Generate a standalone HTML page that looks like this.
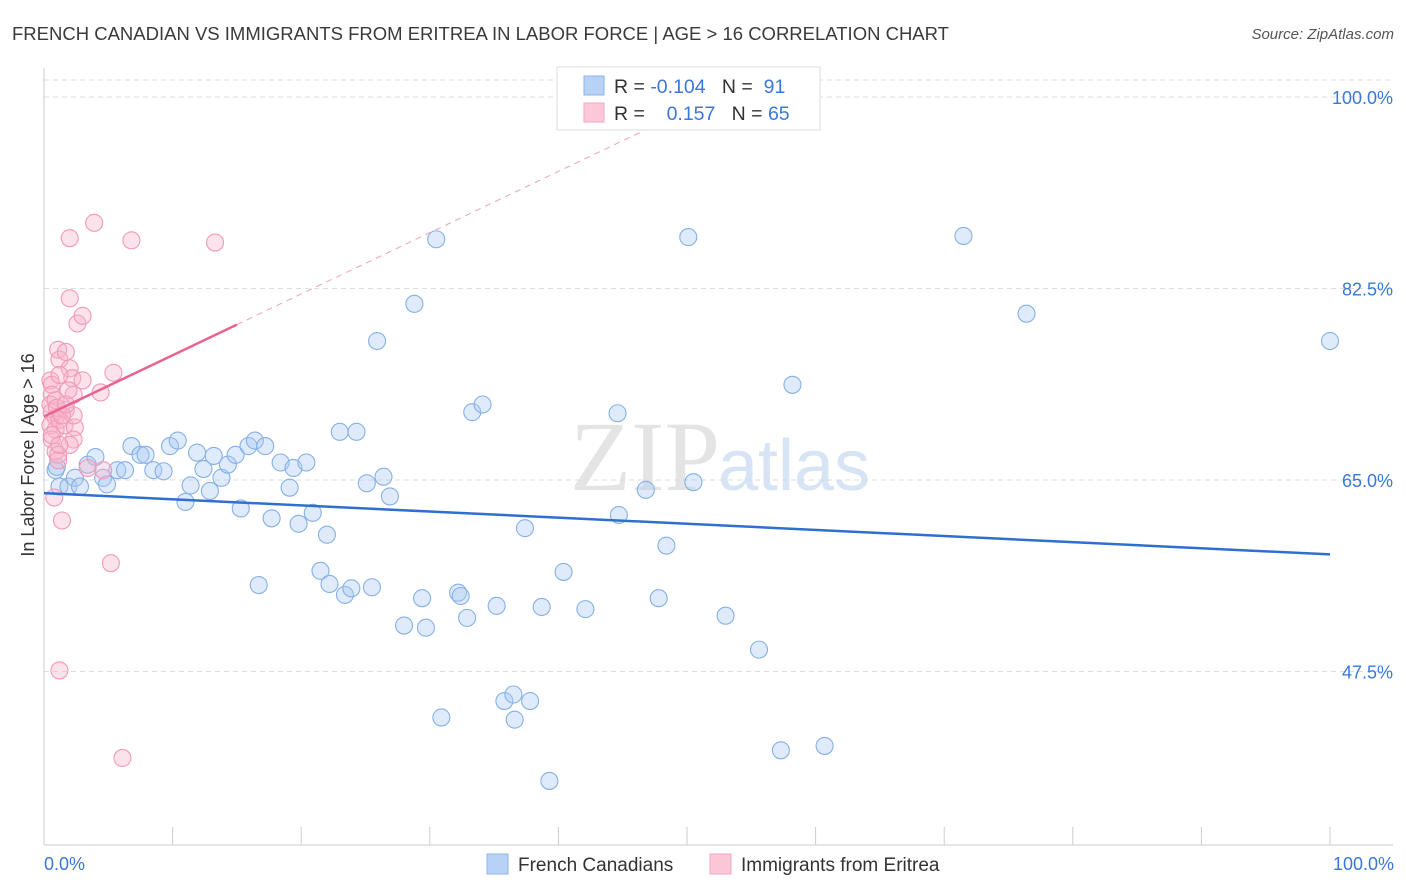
<!DOCTYPE html>
<html><head><meta charset="utf-8"><style>
body{margin:0;background:#fff;font-family:"Liberation Sans",sans-serif;}
#wrap{position:relative;width:1406px;height:892px;overflow:hidden;}
</style></head><body>
<div id="wrap">
<svg id="svg" width="1406" height="892" xmlns="http://www.w3.org/2000/svg">
<text x="12" y="40" font-size="18.5" fill="#3a3a3a">FRENCH CANADIAN VS IMMIGRANTS FROM ERITREA IN LABOR FORCE | AGE &gt; 16 CORRELATION CHART</text>
<text x="1394" y="39" font-size="15" fill="#555" text-anchor="end" font-style="italic">Source: ZipAtlas.com</text>
<text x="720" y="490" font-size="100" fill="#e4e4e4" text-anchor="end" font-family="Liberation Serif">ZIP</text>
<text x="718" y="490" font-size="72" fill="#d6e4f5">atlas</text>
<g id="grid"></g><g id="axes"></g><g id="marks"></g>
<text transform="translate(34,455) rotate(-90)" font-size="18" fill="#333" text-anchor="middle">In Labor Force | Age &gt; 16</text>
<g>
<rect x="557" y="67" width="263" height="63" fill="#fff" stroke="#ddd"/>
<rect x="584" y="76" width="20" height="19" fill="#b8d2f5" stroke="#8ab4ea"/>
<rect x="584" y="103" width="20" height="19" fill="#fcc8d8" stroke="#f4a6bf"/>
<text x="614" y="93" font-size="19.5" fill="#333" xml:space="preserve">R = <tspan fill="#3a78d8">-0.104</tspan>   N =  <tspan fill="#3a78d8">91</tspan></text>
<text x="614" y="120" font-size="19.5" fill="#333" xml:space="preserve">R =    <tspan fill="#3a78d8">0.157</tspan>   N = <tspan fill="#3a78d8">65</tspan></text>
</g>
<g>
<rect x="487" y="854" width="21" height="20" fill="#b8d2f5" stroke="#8ab4ea"/>
<text x="518" y="871" font-size="19" fill="#333">French Canadians</text>
<rect x="710" y="854" width="21" height="20" fill="#fcc8d8" stroke="#f4a6bf"/>
<text x="741" y="871" font-size="19" fill="#333">Immigrants from Eritrea</text>
</g>
</svg>
</div>
<script>
const yTicks=[100,82.5,65,47.5];
const yTickLabels=["100.0%","82.5%","65.0%","47.5%"];
const xLabels=["0.0%","100.0%"];
const blueX=[0.9,1.0,1.2,1.9,2.4,2.8,3.4,4.0,4.6,4.9,5.7,6.3,6.8,7.5,7.9,8.5,9.3,9.8,10.4,11.0,11.4,11.9,12.4,12.9,13.2,13.8,14.3,14.9,15.3,15.9,16.4,16.7,17.2,17.7,18.4,19.1,19.4,19.8,20.4,20.9,21.5,22.0,22.2,23.0,23.4,23.9,24.3,25.1,25.5,25.9,26.4,26.9,28.0,28.8,29.4,29.7,30.5,30.9,32.2,32.4,32.9,33.3,34.1,35.2,35.8,36.5,36.6,37.4,37.8,38.7,39.3,40.4,42.1,44.6,44.7,46.8,47.8,48.4,50.1,50.5,53.0,55.6,57.3,58.2,60.7,71.5,76.4,100];
const blueY=[65.9,66.2,64.4,64.4,65.2,64.4,66.4,67.1,65.2,64.6,65.9,65.9,68.1,67.3,67.3,65.9,65.8,68.1,68.6,63.0,64.5,67.5,66.0,64.0,67.2,65.2,66.4,67.3,62.4,68.1,68.6,55.4,68.1,61.5,66.6,64.3,66.1,61.0,66.6,62.0,56.7,60.0,55.5,69.4,54.5,55.1,69.4,64.7,55.2,77.7,65.3,63.5,51.7,81.1,54.2,51.5,87.0,43.3,54.7,54.4,52.4,71.2,71.9,53.5,44.8,45.4,43.1,60.6,44.8,53.4,37.5,56.6,53.2,71.1,61.8,64.1,54.2,59.0,87.2,64.8,52.6,49.5,40.3,73.7,40.7,87.3,80.2,77.7];
const pinkX=[0.5,0.6,0.6,0.5,0.6,0.9,0.5,0.9,0.6,0.9,1.1,0.8,1.4,1.1,1.2,1.7,2.0,2.2,2.3,1.7,1.2,1.6,2.4,2.3,2.0,1.1,1.2,1.9,2.0,2.0,2.6,3.0,3.0,2.3,1.2,3.4,4.4,5.4,4.6,5.2,3.9,6.1,6.8,13.3,0.9,1.0,1.4,1.7,0.6,1.2];
const pinkY=[74.1,73.7,72.8,71.9,71.2,70.7,70.0,69.6,68.7,67.6,67.3,63.4,61.3,76.9,76.0,76.7,75.2,74.3,72.8,71.4,70.5,70.0,69.8,68.7,68.2,66.8,74.6,73.2,87.1,81.6,79.3,80.0,74.1,70.9,47.6,66.1,73.0,74.8,65.9,57.4,88.5,39.6,86.9,86.7,72.3,71.6,70.9,71.9,69.1,68.2];
const blueTrend=[63.8,-0.056];
const pinkTrend=[70.8,0.56];
const X=v=>44+v*12.86, Y=v=>97+(100-v)*10.943;
const NS="http://www.w3.org/2000/svg";
function mk(p,t,a){const e=document.createElementNS(NS,t);for(const k in a)e.setAttribute(k,a[k]);document.getElementById(p).appendChild(e);return e;}
let g=mk('grid','line',{x1:44,x2:1393,y1:80,y2:80,stroke:'#ddd','stroke-dasharray':'5,4'});


yTicks.forEach((t,i)=>{
 const l=mk('grid','line',{x1:44,x2:1393,y1:Y(t),y2:Y(t),stroke:'#ddd','stroke-dasharray':'5,4'});
 
 
 const tx=mk('axes','text',{x:1393,y:Y(t)+7,'font-size':18,fill:'#3a78d8','text-anchor':'end'});
 tx.textContent=yTickLabels[i];
 
 
});
let a=mk('axes','line',{x1:44,x2:44,y1:68,y2:845,stroke:'#ccc'});


a=mk('axes','line',{x1:44,x2:1393,y1:845,y2:845,stroke:'#ccc'});


for(let i=0;i<=10;i++){const t=mk('axes','line',{x1:X(i*10),x2:X(i*10),y1:827,y2:845,stroke:'#ccc'});
 
 }
[[0,'start',44],[1,'end',1394]].forEach(([i,an,x])=>{const t=mk('axes','text',{x:x,y:870,'font-size':18,fill:'#3a78d8','text-anchor':an});t.textContent=xLabels[i];
 
 });
blueX.forEach((x,i)=>{const c=mk('marks','circle',{cx:X(x),cy:Y(blueY[i]),r:8.5,fill:'rgba(170,202,242,0.38)',stroke:'#86b0e6','stroke-width':1.1});
 
 });
pinkX.forEach((x,i)=>{const c=mk('marks','circle',{cx:X(x),cy:Y(pinkY[i]),r:8.5,fill:'rgba(247,180,202,0.38)',stroke:'#f299b6','stroke-width':1.1});
 
 });
let tl=mk('marks','line',{x1:X(0),y1:Y(blueTrend[0]),x2:X(100),y2:Y(blueTrend[0]+100*blueTrend[1]),stroke:'#2f6fd0','stroke-width':2.5});


const xe=(100-pinkTrend[0])/pinkTrend[1];
tl=mk('marks','line',{x1:X(15),y1:Y(pinkTrend[0]+15*pinkTrend[1]),x2:X(xe),y2:Y(100),stroke:'#f0a0b8','stroke-width':1,'stroke-dasharray':'6,5'});


tl=mk('marks','line',{x1:X(0),y1:Y(pinkTrend[0]),x2:X(15),y2:Y(pinkTrend[0]+15*pinkTrend[1]),stroke:'#e8648e','stroke-width':2.5});


</script>
</body></html>
